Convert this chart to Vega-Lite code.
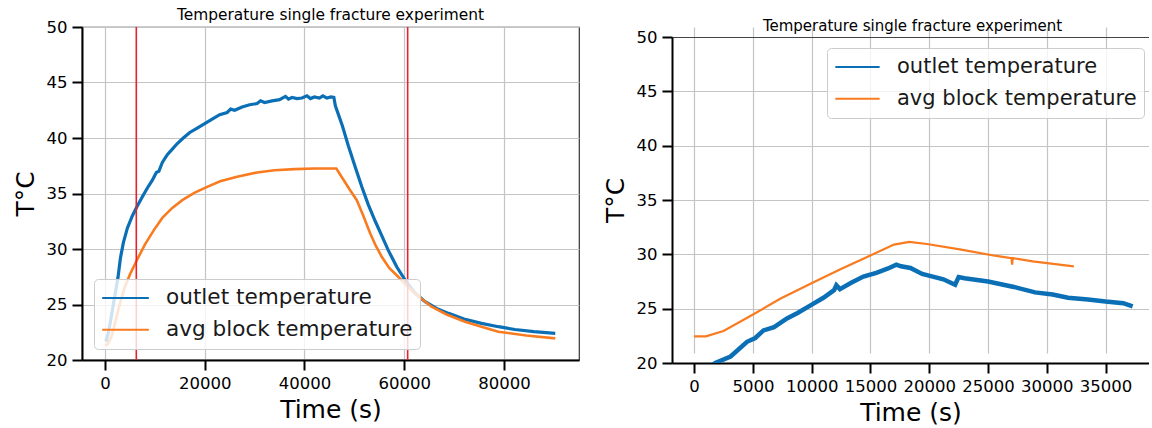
{
  "$schema": "https://vega.github.io/schema/vega-lite/v6.json",
  "background": "white",
  "padding": {"left": 12, "top": 7, "right": 0, "bottom": 0},
  "config": {
    "font": "DejaVu Sans",
    "view": {"stroke": "#333333", "strokeWidth": 1.2},
    "axis": {
      "grid": true,
      "gridColor": "#c4c4c4",
      "gridWidth": 1.2,
      "domainColor": "#000000",
      "domainWidth": 2,
      "tickColor": "#000000",
      "tickWidth": 2,
      "tickSize": 10,
      "labelFontSize": 16.5,
      "labelColor": "#000000",
      "labelPadding": 5,
      "titleFontSize": 25,
      "titleFontWeight": "normal",
      "titleColor": "#000000"
    },
    "axisX": {"titlePadding": 6},
    "axisY": {"titlePadding": 8},
    "title": {"fontSize": 15, "fontWeight": "normal", "color": "#000000", "offset": -4, "frame": "group"},
    "legend": {
      "title": null,
      "symbolType": "stroke",
      "symbolStrokeWidth": 2,
      "labelColor": "#1a1a1a",
      "labelOffset": 16,
      "labelLimit": 400,
      "clipHeight": 24,
      "rowPadding": 7.8,
      "padding": 7,
      "fillColor": "rgba(255,255,255,0.8)",
      "strokeColor": "#cccccc",
      "cornerRadius": 4
    }
  },
  "datasets": {
    "leftRun": [
      {"series": "outlet temperature", "t": 0, "T": 21.9},
      {"series": "outlet temperature", "t": 300, "T": 21.8},
      {"series": "outlet temperature", "t": 700, "T": 22.5},
      {"series": "outlet temperature", "t": 1300, "T": 24.0},
      {"series": "outlet temperature", "t": 1900, "T": 25.6},
      {"series": "outlet temperature", "t": 2600, "T": 27.4},
      {"series": "outlet temperature", "t": 3100, "T": 29.2},
      {"series": "outlet temperature", "t": 3700, "T": 30.6},
      {"series": "outlet temperature", "t": 4500, "T": 31.9},
      {"series": "outlet temperature", "t": 5500, "T": 33.0},
      {"series": "outlet temperature", "t": 6400, "T": 33.8},
      {"series": "outlet temperature", "t": 7500, "T": 34.7},
      {"series": "outlet temperature", "t": 8500, "T": 35.5},
      {"series": "outlet temperature", "t": 9500, "T": 36.2},
      {"series": "outlet temperature", "t": 10300, "T": 36.9},
      {"series": "outlet temperature", "t": 10800, "T": 37.0},
      {"series": "outlet temperature", "t": 11500, "T": 37.8},
      {"series": "outlet temperature", "t": 12500, "T": 38.5},
      {"series": "outlet temperature", "t": 13500, "T": 39.0},
      {"series": "outlet temperature", "t": 14500, "T": 39.5},
      {"series": "outlet temperature", "t": 15700, "T": 40.0},
      {"series": "outlet temperature", "t": 17000, "T": 40.5},
      {"series": "outlet temperature", "t": 18500, "T": 40.9},
      {"series": "outlet temperature", "t": 20000, "T": 41.3},
      {"series": "outlet temperature", "t": 21500, "T": 41.7},
      {"series": "outlet temperature", "t": 23000, "T": 42.1},
      {"series": "outlet temperature", "t": 24500, "T": 42.3},
      {"series": "outlet temperature", "t": 25200, "T": 42.6},
      {"series": "outlet temperature", "t": 26000, "T": 42.5},
      {"series": "outlet temperature", "t": 27500, "T": 42.8},
      {"series": "outlet temperature", "t": 29000, "T": 43.0},
      {"series": "outlet temperature", "t": 30500, "T": 43.1},
      {"series": "outlet temperature", "t": 31200, "T": 43.35},
      {"series": "outlet temperature", "t": 32000, "T": 43.2},
      {"series": "outlet temperature", "t": 33500, "T": 43.35},
      {"series": "outlet temperature", "t": 35000, "T": 43.45},
      {"series": "outlet temperature", "t": 36200, "T": 43.75},
      {"series": "outlet temperature", "t": 36800, "T": 43.5},
      {"series": "outlet temperature", "t": 37500, "T": 43.65},
      {"series": "outlet temperature", "t": 38500, "T": 43.55},
      {"series": "outlet temperature", "t": 39500, "T": 43.6},
      {"series": "outlet temperature", "t": 40500, "T": 43.8},
      {"series": "outlet temperature", "t": 41200, "T": 43.55},
      {"series": "outlet temperature", "t": 42000, "T": 43.7},
      {"series": "outlet temperature", "t": 43000, "T": 43.6},
      {"series": "outlet temperature", "t": 43700, "T": 43.8},
      {"series": "outlet temperature", "t": 44500, "T": 43.6},
      {"series": "outlet temperature", "t": 45300, "T": 43.7},
      {"series": "outlet temperature", "t": 45900, "T": 43.65},
      {"series": "outlet temperature", "t": 46200, "T": 42.9},
      {"series": "outlet temperature", "t": 47600, "T": 41.1},
      {"series": "outlet temperature", "t": 48800, "T": 39.3},
      {"series": "outlet temperature", "t": 50100, "T": 37.5},
      {"series": "outlet temperature", "t": 51500, "T": 35.6},
      {"series": "outlet temperature", "t": 52800, "T": 34.0},
      {"series": "outlet temperature", "t": 54200, "T": 32.5},
      {"series": "outlet temperature", "t": 55500, "T": 31.2},
      {"series": "outlet temperature", "t": 56800, "T": 29.9},
      {"series": "outlet temperature", "t": 58500, "T": 28.4},
      {"series": "outlet temperature", "t": 60200, "T": 27.2},
      {"series": "outlet temperature", "t": 62000, "T": 26.1},
      {"series": "outlet temperature", "t": 64200, "T": 25.25},
      {"series": "outlet temperature", "t": 66500, "T": 24.65},
      {"series": "outlet temperature", "t": 68900, "T": 24.2},
      {"series": "outlet temperature", "t": 72000, "T": 23.7},
      {"series": "outlet temperature", "t": 75500, "T": 23.3},
      {"series": "outlet temperature", "t": 78900, "T": 23.0},
      {"series": "outlet temperature", "t": 82200, "T": 22.75},
      {"series": "outlet temperature", "t": 86000, "T": 22.55},
      {"series": "outlet temperature", "t": 90300, "T": 22.4},
      {"series": "avg block temperature", "t": 0, "T": 21.3},
      {"series": "avg block temperature", "t": 500, "T": 21.4},
      {"series": "avg block temperature", "t": 1300, "T": 22.1},
      {"series": "avg block temperature", "t": 2000, "T": 23.3},
      {"series": "avg block temperature", "t": 3000, "T": 25.1},
      {"series": "avg block temperature", "t": 4000, "T": 26.6},
      {"series": "avg block temperature", "t": 5000, "T": 27.7},
      {"series": "avg block temperature", "t": 6400, "T": 29.0},
      {"series": "avg block temperature", "t": 8000, "T": 30.4},
      {"series": "avg block temperature", "t": 9800, "T": 31.7},
      {"series": "avg block temperature", "t": 11500, "T": 32.8},
      {"series": "avg block temperature", "t": 13500, "T": 33.7},
      {"series": "avg block temperature", "t": 15500, "T": 34.4},
      {"series": "avg block temperature", "t": 17900, "T": 35.05},
      {"series": "avg block temperature", "t": 20500, "T": 35.6},
      {"series": "avg block temperature", "t": 23100, "T": 36.1},
      {"series": "avg block temperature", "t": 26500, "T": 36.5},
      {"series": "avg block temperature", "t": 30500, "T": 36.9},
      {"series": "avg block temperature", "t": 34000, "T": 37.1},
      {"series": "avg block temperature", "t": 38000, "T": 37.2},
      {"series": "avg block temperature", "t": 42000, "T": 37.25},
      {"series": "avg block temperature", "t": 46400, "T": 37.25},
      {"series": "avg block temperature", "t": 47600, "T": 36.4},
      {"series": "avg block temperature", "t": 49000, "T": 35.4},
      {"series": "avg block temperature", "t": 50500, "T": 34.4},
      {"series": "avg block temperature", "t": 51800, "T": 33.0},
      {"series": "avg block temperature", "t": 53200, "T": 31.4},
      {"series": "avg block temperature", "t": 54300, "T": 30.3},
      {"series": "avg block temperature", "t": 55500, "T": 29.3},
      {"series": "avg block temperature", "t": 57000, "T": 28.3},
      {"series": "avg block temperature", "t": 58800, "T": 27.5},
      {"series": "avg block temperature", "t": 60500, "T": 26.7},
      {"series": "avg block temperature", "t": 62200, "T": 26.0},
      {"series": "avg block temperature", "t": 63800, "T": 25.4},
      {"series": "avg block temperature", "t": 65500, "T": 24.8},
      {"series": "avg block temperature", "t": 68500, "T": 24.1},
      {"series": "avg block temperature", "t": 72200, "T": 23.45},
      {"series": "avg block temperature", "t": 75500, "T": 23.0},
      {"series": "avg block temperature", "t": 78900, "T": 22.55},
      {"series": "avg block temperature", "t": 84500, "T": 22.2},
      {"series": "avg block temperature", "t": 90300, "T": 21.95}
    ],
    "leftEvents": [
      {"t": 6280},
      {"t": 60700}
    ],
    "rightRun": [
      {"series": "outlet temperature", "t": 0, "T": 18.7},
      {"series": "outlet temperature", "t": 1800, "T": 20.0},
      {"series": "outlet temperature", "t": 3100, "T": 20.6},
      {"series": "outlet temperature", "t": 4500, "T": 21.95},
      {"series": "outlet temperature", "t": 5200, "T": 22.3},
      {"series": "outlet temperature", "t": 5900, "T": 23.0},
      {"series": "outlet temperature", "t": 6800, "T": 23.3},
      {"series": "outlet temperature", "t": 7900, "T": 24.1},
      {"series": "outlet temperature", "t": 8800, "T": 24.6},
      {"series": "outlet temperature", "t": 9900, "T": 25.3},
      {"series": "outlet temperature", "t": 11000, "T": 26.0},
      {"series": "outlet temperature", "t": 11900, "T": 26.7},
      {"series": "outlet temperature", "t": 12100, "T": 27.15},
      {"series": "outlet temperature", "t": 12400, "T": 26.8},
      {"series": "outlet temperature", "t": 13400, "T": 27.4},
      {"series": "outlet temperature", "t": 14400, "T": 27.95},
      {"series": "outlet temperature", "t": 15500, "T": 28.3},
      {"series": "outlet temperature", "t": 16500, "T": 28.7},
      {"series": "outlet temperature", "t": 17200, "T": 29.05},
      {"series": "outlet temperature", "t": 17600, "T": 28.9},
      {"series": "outlet temperature", "t": 18400, "T": 28.75},
      {"series": "outlet temperature", "t": 19400, "T": 28.2},
      {"series": "outlet temperature", "t": 20300, "T": 27.95},
      {"series": "outlet temperature", "t": 21200, "T": 27.7},
      {"series": "outlet temperature", "t": 22200, "T": 27.2},
      {"series": "outlet temperature", "t": 22500, "T": 27.9},
      {"series": "outlet temperature", "t": 23000, "T": 27.8},
      {"series": "outlet temperature", "t": 25000, "T": 27.5},
      {"series": "outlet temperature", "t": 27200, "T": 27.0},
      {"series": "outlet temperature", "t": 29000, "T": 26.5},
      {"series": "outlet temperature", "t": 30500, "T": 26.3},
      {"series": "outlet temperature", "t": 31800, "T": 26.0},
      {"series": "outlet temperature", "t": 33500, "T": 25.85},
      {"series": "outlet temperature", "t": 35000, "T": 25.65},
      {"series": "outlet temperature", "t": 36500, "T": 25.5},
      {"series": "outlet temperature", "t": 37300, "T": 25.2},
      {"series": "avg block temperature", "t": 0, "T": 22.45},
      {"series": "avg block temperature", "t": 1000, "T": 22.45},
      {"series": "avg block temperature", "t": 2500, "T": 22.95},
      {"series": "avg block temperature", "t": 4900, "T": 24.4},
      {"series": "avg block temperature", "t": 7400, "T": 25.95},
      {"series": "avg block temperature", "t": 9900, "T": 27.3},
      {"series": "avg block temperature", "t": 12400, "T": 28.6},
      {"series": "avg block temperature", "t": 14900, "T": 29.85},
      {"series": "avg block temperature", "t": 17000, "T": 30.9},
      {"series": "avg block temperature", "t": 18300, "T": 31.15},
      {"series": "avg block temperature", "t": 19800, "T": 30.95},
      {"series": "avg block temperature", "t": 22600, "T": 30.45},
      {"series": "avg block temperature", "t": 25700, "T": 29.85},
      {"series": "avg block temperature", "t": 27000, "T": 29.65},
      {"series": "avg block temperature", "t": 27050, "T": 29.05},
      {"series": "avg block temperature", "t": 27100, "T": 29.65},
      {"series": "avg block temperature", "t": 28800, "T": 29.35},
      {"series": "avg block temperature", "t": 32300, "T": 28.9}
    ]
  },
  "spacing": 23,
  "resolve": {"scale": {"color": "independent"}, "legend": {"color": "independent"}},
  "hconcat": [
    {
      "width": 497,
      "height": 333,
      "title": {"text": "Temperature single fracture experiment", "fontSize": 15.4},
      "encoding": {
        "x": {
          "field": "t",
          "type": "quantitative",
          "title": "Time (s)",
          "scale": {"domain": [-4610, 95060], "nice": false, "zero": false},
          "axis": {"values": [0, 20000, 40000, 60000, 80000], "format": "d"}
        }
      },
      "layer": [
        {
          "data": {"name": "leftRun"},
          "transform": [{"filter": {"field": "series", "equal": "outlet temperature"}}],
          "mark": {"type": "line", "strokeWidth": 3.2, "clip": true},
          "encoding": {
            "y": {
              "field": "T",
              "type": "quantitative",
              "title": "T°C",
              "scale": {"domain": [20, 50], "nice": false, "zero": false},
              "axis": {"values": [20, 25, 30, 35, 40, 45, 50]}
            },
            "color": {
              "field": "series",
              "type": "nominal",
              "scale": {"domain": ["outlet temperature", "avg block temperature"], "range": ["#0b6fb5", "#f97b20"]},
              "legend": {"orient": "none", "legendX": 12, "legendY": 252, "labelFontSize": 21.6, "symbolSize": 2172}
            }
          }
        },
        {
          "data": {"name": "leftRun"},
          "transform": [{"filter": {"field": "series", "equal": "avg block temperature"}}],
          "mark": {"type": "line", "strokeWidth": 2.6, "clip": true},
          "encoding": {
            "y": {"field": "T", "type": "quantitative", "title": "T°C"},
            "color": {
              "field": "series",
              "type": "nominal",
              "legend": {"orient": "none", "legendX": 12, "legendY": 252, "labelFontSize": 21.6, "symbolSize": 2172}
            }
          }
        },
        {
          "data": {"name": "leftEvents"},
          "mark": {"type": "rule", "color": "#e8202a", "strokeWidth": 1.6}
        }
      ]
    },
    {
      "width": 477,
      "height": 336,
      "view": {"stroke": null},
      "title": {"text": "Temperature single fracture experiment", "dx": 2, "dy": 3},
      "data": {"name": "rightRun"},
      "resolve": {"axis": {"x": "independent"}},
      "layer": [
        {
          "transform": [{"filter": {"field": "series", "equal": "outlet temperature"}}],
          "mark": {"type": "line", "strokeWidth": 4.5, "clip": true},
          "encoding": {
            "x": {
              "field": "t",
              "type": "quantitative",
              "title": "Time (s)",
              "scale": {"domain": [-1880, 38690], "nice": false, "zero": false},
              "axis": {"values": [0, 5000, 10000, 15000, 20000, 25000, 30000, 35000], "format": "d"}
            },
            "y": {
              "field": "T",
              "type": "quantitative",
              "title": "T°C",
              "scale": {"domain": [20, 50], "range": [336, 10], "nice": false, "zero": false},
              "axis": {"values": [20, 25, 30, 35, 40, 45, 50]}
            },
            "color": {
              "field": "series",
              "type": "nominal",
              "scale": {"domain": ["outlet temperature", "avg block temperature"], "range": ["#0b6fb5", "#f97b20"]},
              "legend": {"orient": "none", "legendX": 155, "legendY": 21, "labelFontSize": 21, "symbolSize": 1962}
            }
          }
        },
        {
          "transform": [{"filter": {"field": "series", "equal": "avg block temperature"}}],
          "mark": {"type": "line", "strokeWidth": 2.2, "clip": true},
          "encoding": {
            "x": {
              "field": "t",
              "type": "quantitative",
              "axis": {"orient": "top", "offset": -10, "title": null, "labels": false, "ticks": false, "grid": false, "domainColor": "#444444", "domainWidth": 1.2}
            },
            "y": {"field": "T", "type": "quantitative", "title": "T°C"},
            "color": {
              "field": "series",
              "type": "nominal",
              "legend": {"orient": "none", "legendX": 155, "legendY": 21, "labelFontSize": 21, "symbolSize": 1962}
            }
          }
        }
      ]
    }
  ]
}
